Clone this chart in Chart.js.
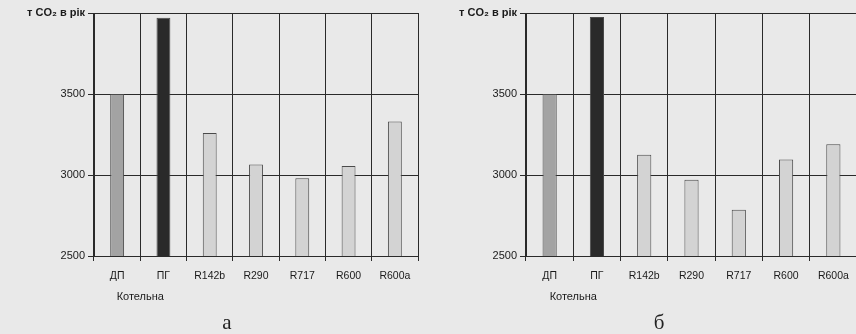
<!DOCTYPE html>
<html>
<head>
<meta charset="utf-8">
<script src="https://cdn.jsdelivr.net/npm/chart.js@4/dist/chart.umd.min.js"></script>
<style>
  html, body { margin: 0; padding: 0; }
  body { width: 856px; height: 334px; overflow: hidden; position: relative; background: #e9e9e9; }
  .box { position: absolute; top: 0; height: 334px; }
  #boxA { left: 0; width: 426px; }
  #boxB { left: 426px; width: 440px; }
  .cap { position: absolute; font-family: "Liberation Serif", serif; font-size: 21px; color: #222; transform: translate(-50%, -50%); }
</style>
</head>
<body>
<div class="box" id="boxA"><canvas id="chartA" width="426" height="334"></canvas></div>
<div class="box" id="boxB"><canvas id="chartB" width="440" height="334"></canvas></div>
<div class="cap" style="left:227px; top:322px;">а</div>
<div class="cap" style="left:659px; top:322px;">б</div>
<script>
const categories = ["ДП", "ПГ", "R142b", "R290", "R717", "R600", "R600a"];
const groupLabel = "Котельна";
const valuesA = [3500, 3970, 3260, 3065, 2980, 3055, 3330];
const valuesB = [3500, 3975, 3125, 2970, 2785, 3095, 3190];
const yTicks = [2500, 3000, 3500, 4000];
const unitLabel = "т CO₂ в рік";

const FONT = '"Liberation Sans Narrow", "Liberation Sans", sans-serif';
const barColors = ["#a3a3a3", "#2a2a2a", "#d3d3d3", "#d3d3d3", "#d3d3d3", "#d3d3d3", "#d3d3d3"];

// "Котельна" sits under the first two categories
const groupLabelPlugin = {
  id: "groupLabel",
  afterDraw(chart) {
    const x = chart.scales.x;
    const ctx = chart.ctx;
    const cx = (x.getPixelForValue(0) + x.getPixelForValue(1)) / 2;
    ctx.save();
    ctx.font = "11px " + FONT;
    ctx.fillStyle = "#1a1a1a";
    ctx.textAlign = "center";
    ctx.textBaseline = "middle";
    ctx.fillText(groupLabel, cx, x.bottom - 37);
    ctx.restore();
  },
};

function makeChart(id, values, yWidth, padRight) {
  return new Chart(document.getElementById(id).getContext("2d"), {
    type: "bar",
    data: {
      labels: categories,
      datasets: [
        {
          data: values,
          backgroundColor: barColors,
          borderColor: "#4a4a4a",
          borderWidth: 1,
          categoryPercentage: 1,
          barPercentage: 0.3,
        },
      ],
    },
    options: {
      responsive: false,
      animation: false,
      layout: { padding: { top: 13, right: padRight, left: 0, bottom: 0 } },
      plugins: { legend: { display: false }, tooltip: { enabled: false } },
      scales: {
        x: {
          grid: { color: "#2a2a2a", lineWidth: 1, offset: true, tickLength: 5 },
          border: { color: "#2a2a2a" },
          ticks: { color: "#1a1a1a", font: { family: FONT, size: 10.5 }, padding: 9 },
          afterFit: (s) => { s.height = 78; },
        },
        y: {
          min: yTicks[0],
          max: yTicks[yTicks.length - 1],
          afterBuildTicks: (s) => { s.ticks = yTicks.map((v) => ({ value: v })); },
          grid: { color: "#2a2a2a", lineWidth: 1, tickLength: 6 },
          border: { color: "#2a2a2a" },
          ticks: {
            color: "#1a1a1a",
            padding: 3,
            font: (c) => c.tick && c.tick.value === 4000
              ? { family: '"Liberation Sans", sans-serif', size: 11, weight: "bold" }
              : { family: FONT, size: 11 },
            callback: (v) => (v === 4000 ? unitLabel : String(v)),
          },
          afterFit: (s) => { s.width = yWidth; },
        },
      },
    },
    plugins: [groupLabelPlugin],
  });
}

makeChart("chartA", valuesA, 94, 8);
makeChart("chartB", valuesB, 100, 9);
</script>
</body>
</html>
